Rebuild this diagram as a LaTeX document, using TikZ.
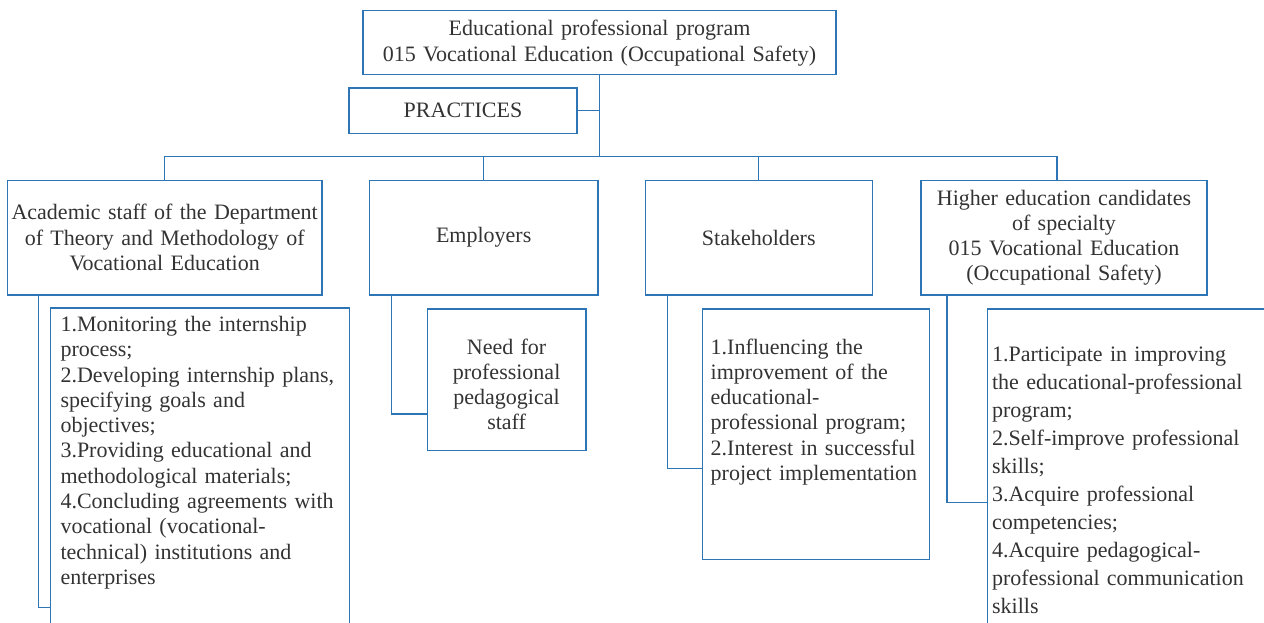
\documentclass[tikz,border=0pt]{standalone}
\usepackage{fontspec}
\setmainfont{Liberation Serif}
\usepackage{tikz}
\definecolor{boxblue}{RGB}{46,117,182}

\begin{document}
\begin{tikzpicture}
  [
    x = 1pt, y = -1pt,
    box/.style = {draw = boxblue, line width = 1.4pt, rectangle, inner sep = 0pt, text = black!80,
                  align = center, font = \fontsize{22}{25.3}\selectfont},
    head/.style = {box, text width = #1, minimum width = #1},
    level/.style = {box, text width = #1, minimum width = #1, minimum height = 114.7pt},
    list/.style = {box, anchor = north west, align = left},
    link/.style = {draw = boxblue, line width = 1.4pt}
  ]
  \useasboundingbox (0,0) rectangle (1264,623);
  \clip (0,0) rectangle (1264,623);

  % program and practices
  \node [head = 473pt, minimum height = 64pt, font = \fontsize{22}{26}\selectfont] (prog) at (599.5, 42.7)
    {Educational professional program\\015 Vocational Education (Occupational Safety)};
  \node [head = 228pt, minimum height = 45.7pt] (prac) at (463, 110.8) {PRACTICES};

  % participants
  \node [level = 314.7pt] (staff) at (164.7, 237.7)
    {Academic staff of the Department\\of Theory and Methodology of\\Vocational Education};
  \node [level = 228.6pt] (empl) at (483.7, 237.7) {Employers};
  \node [level = 227pt] (stake) at (758.75, 237.7) {Stakeholders};
  \node [level = 286pt] (cand) at (1064, 237.7)
    {Higher education candidates\\of specialty\\015 Vocational Education\\(Occupational Safety)};

  % their tasks
  \node [list, inner xsep = 10pt, text width = 278.8pt, text height = 23.4pt, text depth = 330pt]
    (staffsub) at (49.8, 307.3)
    {1.Monitoring the internship\\process;\\2.Developing internship plans,\\specifying goals and\\objectives;\\
     3.Providing educational and\\methodological materials;\\4.Concluding agreements with\\
     vocational (vocational-\\technical) institutions and\\enterprises};
  \node [list, align = center, inner xsep = 8pt, text width = 142.8pt, text height = 45pt, text depth = 96.7pt]
    (emplsub) at (426.5, 308.3) {Need for\\professional\\pedagogical\\staff};
  \node [list, inner xsep = 8pt, text width = 211pt, text height = 45pt, text depth = 205.7pt]
    (stakesub) at (702, 308.3)
    {1.Influencing the\\improvement of the\\educational-\\professional program;\\
     2.Interest in successful\\project implementation};
  \node [list, inner xsep = 4.4pt, text width = 300pt, text height = 52.7pt, text depth = 330pt,
         font = \fontsize{22}{28}\selectfont]
    (candsub) at (987, 308.3)
    {1.Participate in improving\\the educational-professional\\program;\\2.Self-improve professional\\
     skills;\\3.Acquire professional\\competencies;\\4.Acquire pedagogical-\\
     professional communication\\skills};

  % connectors
  \coordinate (bus) at (599.5, 156.3);
  \coordinate (candtop) at ([xshift = -7pt]cand.north);
  \draw [link] (prog.south) -- (bus);
  \draw [link] (prac.east) -- (prac.east -| bus);
  \draw [link] (staff.north |- bus) -- (candtop |- bus) -- (candtop);
  \foreach \n in {staff, empl, stake}
    \draw [link] (\n.north |- bus) -- (\n.north);
  \draw [link] ([xshift = 32pt]staff.south west) |- ([yshift = -300pt]staffsub.north west);
  \draw [link] ([xshift = 22.8pt]empl.south west) |- ([yshift = -105.7pt]emplsub.north west);
  \draw [link] ([xshift = 22.9pt]stake.south west) |- ([yshift = -160pt]stakesub.north west);
  \draw [link] ([xshift = 26.5pt]cand.south west) |- ([yshift = -194.4pt]candsub.north west);
\end{tikzpicture}
\end{document}
